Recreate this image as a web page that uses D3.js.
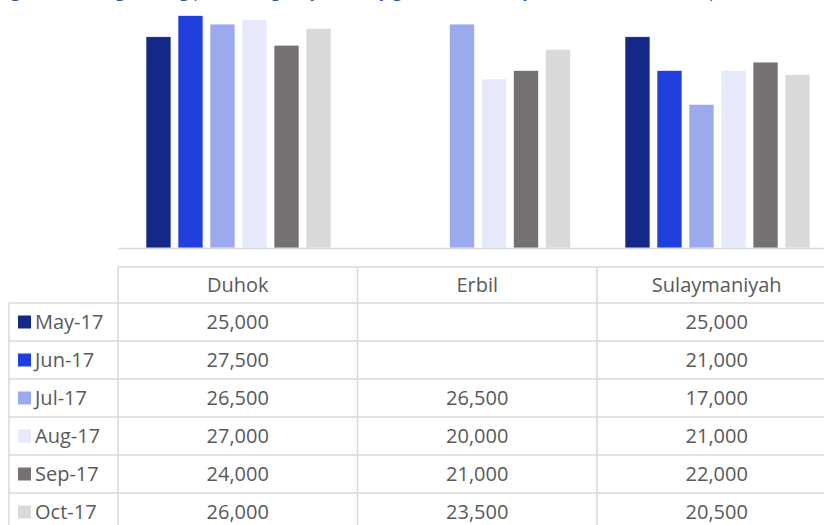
<!DOCTYPE html>
<html>
<head>
<meta charset="utf-8">
<script src="https://cdn.jsdelivr.net/npm/d3@7"></script>
<style>
  body { margin: 0; background: #fff; }
  svg { display: block; font-family: "Open Sans", sans-serif; }
</style>
</head>
<body>
<div id="chart"></div>
<script>
// chart values
const categories = ["Duhok", "Erbil", "Sulaymaniyah"];
const months = ["May-17", "Jun-17", "Jul-17", "Aug-17", "Sep-17", "Oct-17"];
const duhok = [25000, 27500, 26500, 27000, 24000, 26000];
const erbil = [null, null, 26500, 20000, 21000, 23500];
const sulaymaniyah = [25000, 21000, 17000, 21000, 22000, 20500];
const colors = ["#142887", "#203FDC", "#9BAAEE", "#E6E9FA", "#767171", "#D9D9D9"];
const title = "Figure 7: Average selling price of a gas cylinder by governorate, May to October 2017 (IQD per unit)";

const series = [duhok, erbil, sulaymaniyah];
const W = 824, H = 525;
const baseY = 248;
const tableLeft = 118, colW = 239.5;

const svg = d3.select("#chart").append("svg")
  .attr("width", W).attr("height", H);

// title, cut off at the top like the source
svg.append("text")
  .attr("x", -2).attr("y", -3.5)
  .style("fill", "#2F5597")
  .style("font-size", "17px")
  .text(title);

const x0 = d3.scaleBand().domain(categories)
  .range([tableLeft, tableLeft + colW * categories.length]);
const x1 = d3.scaleBand().domain(months)
  .range([28, 213]).paddingInner(0.22).paddingOuter(0);
const y = d3.scaleLinear().domain([0, 30000]).range([baseY, baseY - 253.5]);

const groups = svg.selectAll("g.cat").data(categories).enter()
  .append("g").attr("class", "cat")
  .attr("transform", d => `translate(${x0(d)},0)`);

groups.selectAll("rect")
  .data((d, i) => months.map((m, j) => ({ m, v: series[i][j], c: colors[j] })).filter(e => e.v != null))
  .enter().append("rect")
  .attr("x", d => x1(d.m))
  .attr("width", x1.bandwidth())
  .attr("y", d => y(d.v))
  .attr("height", d => y(0) - y(d.v))
  .style("fill", d => d.c)
  .style("stroke", "#fff")
  .style("stroke-width", 0.6);

// axis base line
svg.append("line")
  .attr("x1", tableLeft).attr("x2", W)
  .attr("y1", baseY + 0.5).attr("y2", baseY + 0.5)
  .style("stroke", "#D9D9D9").style("stroke-width", 1.5);

// data table
const headTop = 267, headH = 36, rowTop = 303, rowH = 38;
const border = "#D9D9D9", txt = "#595959";
const fs = "20px";
const fmt = d3.format(",");
const right = tableLeft + colW * categories.length;

const table = svg.append("g");
// horizontal lines
table.append("line")
  .attr("x1", tableLeft).attr("x2", right)
  .attr("y1", headTop).attr("y2", headTop);
months.forEach((m, i) => {
  table.append("line")
    .attr("x1", 9).attr("x2", right)
    .attr("y1", rowTop + i * rowH).attr("y2", rowTop + i * rowH);
});
// vertical lines
table.append("line").attr("x1", 9).attr("x2", 9)
  .attr("y1", rowTop).attr("y2", H);
categories.concat([null]).forEach((c, i) => {
  const xx = tableLeft + i * colW;
  table.append("line").attr("x1", xx).attr("x2", xx)
    .attr("y1", headTop).attr("y2", H);
});
table.selectAll("line").style("stroke", border).style("stroke-width", 1.5);

// header
table.selectAll("text.head").data(categories).enter()
  .append("text").attr("class", "head")
  .attr("x", d => x0(d) + colW / 2)
  .attr("y", headTop + headH / 2)
  .attr("dy", "0.35em")
  .attr("text-anchor", "middle")
  .style("fill", txt).style("font-size", fs)
  .text(d => d);

// rows
const rows = table.selectAll("g.row").data(months).enter()
  .append("g").attr("class", "row")
  .attr("transform", (d, i) => `translate(0,${rowTop + i * rowH + rowH / 2})`);

rows.append("rect")
  .attr("x", 18).attr("y", -6.5).attr("width", 13).attr("height", 13)
  .style("fill", (d, i) => colors[i]);
rows.append("text")
  .attr("x", 35).attr("dy", "0.35em")
  .style("fill", txt).style("font-size", fs)
  .text(d => d);

categories.forEach((c, ci) => {
  rows.append("text")
    .attr("x", x0(c) + colW / 2)
    .attr("dy", "0.35em")
    .attr("text-anchor", "middle")
    .style("fill", txt).style("font-size", fs)
    .text((d, i) => series[ci][i] == null ? "" : fmt(series[ci][i]));
});
</script>
</body>
</html>
